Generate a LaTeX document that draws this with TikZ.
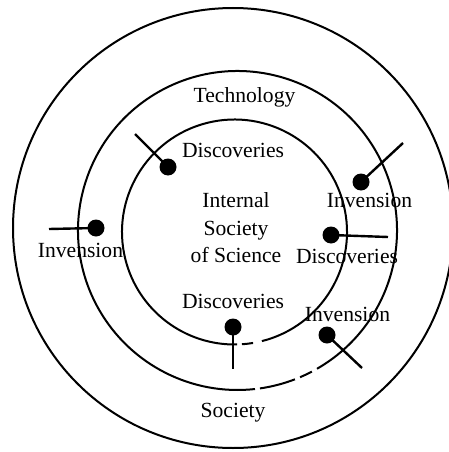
\documentclass[tikz,border=0pt]{standalone}
\usepackage{fontspec}
\setmainfont{Liberation Serif}
\begin{document}
\begin{tikzpicture}[x=1pt,y=1pt,
  ring/.style={line width=2pt},
  stem/.style={line width=2.4pt},
  dot/.style={circle,fill=black,inner sep=0pt,minimum size=17pt},
  txt/.style={inner sep=0pt,font=\fontsize{21.6}{27.5}\selectfont}]
\useasboundingbox (0,0) rectangle (449,-452);
% centres of the three rings
\coordinate (co) at (233,-228);
\coordinate (cm) at (237.5,-230.5);
\coordinate (ci) at (234.5,-232);
% outer ring: society
\draw[ring] (co) circle[radius=220];
% middle ring (technology), broken near the bottom
\draw[ring] ([shift={(-60.1:159.5)}]cm) arc[start angle=-60.1,end angle=276.3,radius=159.5];
\draw[ring] ([shift={(-81.9:159.5)}]cm) arc[start angle=-81.9,end angle=-68.9,radius=159.5];
\draw[ring] ([shift={(-66.9:159.5)}]cm) arc[start angle=-66.9,end angle=-62.2,radius=159.5];
% inner ring (internal society of science), broken near the bottom
\draw[ring] ([shift={(-75.9:112.5)}]ci) arc[start angle=-75.9,end angle=271.3,radius=112.5];
\draw[ring] ([shift={(-86.2:112.5)}]ci) arc[start angle=-86.2,end angle=-80.5,radius=112.5];
% dots with their stems
\node[dot] (d1) at (168,-167) {};
\node[dot] (d2) at (361,-182) {};
\node[dot] (d3) at (96,-228) {};
\node[dot] (d4) at (331,-235) {};
\node[dot] (d5) at (233,-327) {};
\node[dot] (d6) at (327,-335) {};
\coordinate (e1) at (135,-134);
\coordinate (e2) at (403,-143);
\coordinate (e3) at (49,-229);
\coordinate (e4) at (388,-237);
\coordinate (e5) at (233,-369);
\coordinate (e6) at (362,-368);
\foreach \i in {1,...,6} \draw[stem] (d\i.center) -- (e\i);
% labels
\node[txt] (tech) at (244.5,-97.5) {Technology};
\node[txt] (disc1) at (233,-150) {Discoveries};
\node[txt,align=center] (core) at (236,-228) {Internal\\Society\\of Science};
\node[txt] (inv1) at (369.5,-200) {Invension};
\node[txt] (disc2) at (347,-256) {Discoveries};
\node[txt] (inv2) at (80.5,-250) {Invension};
\node[txt] (disc3) at (233,-301) {Discoveries};
\node[txt] (inv3) at (347.5,-314) {Invension};
\node[txt] (soc) at (233,-413) {Society};
\end{tikzpicture}
\end{document}
